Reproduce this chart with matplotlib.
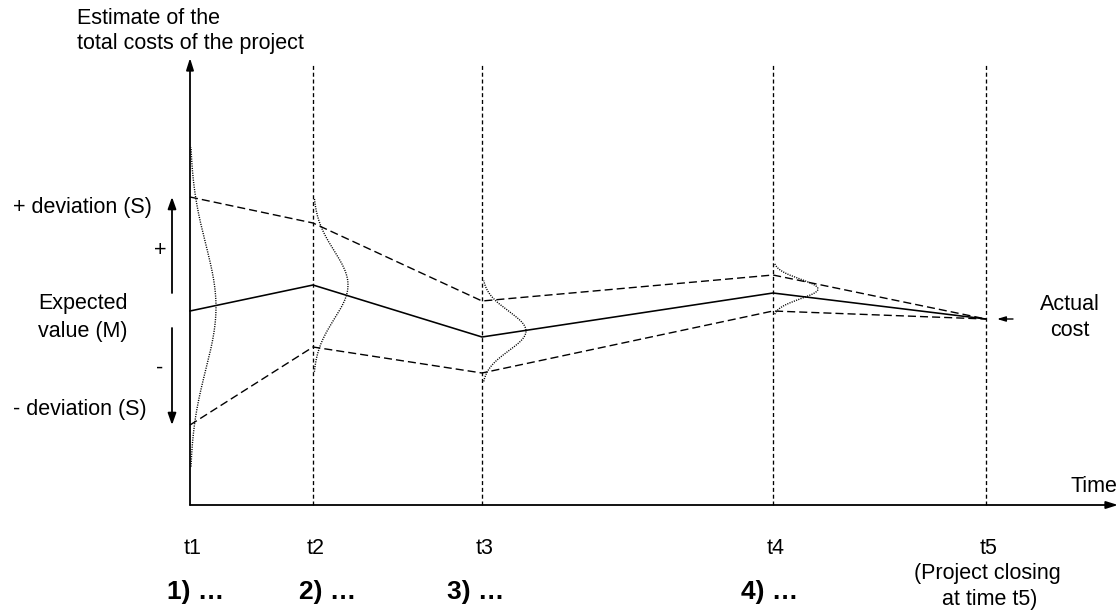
import numpy as np
import matplotlib
matplotlib.use("Agg")
import matplotlib.pyplot as plt

plt.rcParams['font.family'] = ['Liberation Sans', 'DejaVu Sans']
plt.rcParams['lines.scale_dashes'] = False

# Review points along the project timeline
time_labels = ["t1", "t2", "t3", "t4", "t5"]
time_pos = [0.0, 12.3, 29.2, 58.3, 79.6]
phase_labels = ["1) \u2026", "2) \u2026", "3) \u2026", "4) \u2026"]

# Estimated total cost at each review: expected value and deviation
expected = [19.4, 22.0, 16.8, 21.2, 18.6]
deviation = [11.4, 6.2, 3.6, 1.8, 0.0]

# Shape of the estimate distribution drawn at each of the first four reviews
dist_center = [19.8, 22.0, 17.4, 21.6]
dist_height = [2.6, 3.5, 4.4, 4.5]

fig = plt.figure(figsize=(11.2, 6.11), dpi=100)
ax = fig.add_axes([0, 0, 1, 1])
ax.set_xlim(-19.0, 93.0)
ax.set_ylim(-10.6, 50.5)
ax.axis('off')

FS = 15.5
k = 'black'

# axes with arrow heads
ax.annotate('', xy=(0, 44.7), xytext=(0, 0),
            arrowprops=dict(arrowstyle='-|>,head_length=0.7,head_width=0.22',
                            lw=1.3, color=k, shrinkA=0, shrinkB=0))
ax.annotate('', xy=(92.8, 0), xytext=(0, 0),
            arrowprops=dict(arrowstyle='-|>,head_length=0.7,head_width=0.22',
                            lw=1.3, color=k, shrinkA=0, shrinkB=0))

# vertical guides at each review
ax.vlines(time_pos[1:], 0, 44.2, colors=k, lw=0.95,
          linestyles=[(0, (2.9, 2.0))])

# expected value and deviation bands
t = np.array(time_pos)
m = np.array(expected)
d = np.array(deviation)
ax.plot(t, m, color=k, lw=1.15, solid_joinstyle='miter')
ax.plot(t, m + d, color=k, lw=1.0, linestyle=(0, (5.8, 2.9)))
ax.plot(t, m - d, color=k, lw=1.0, linestyle=(0, (5.8, 2.9)))

# distribution curves
for i in range(4):
    s = 0.55 * deviation[i]
    y = np.linspace(dist_center[i] - 1.4 * deviation[i],
                    dist_center[i] + 1.4 * deviation[i], 300)
    x = time_pos[i] + dist_height[i] * np.exp(-0.5 * ((y - dist_center[i]) / s) ** 2)
    ax.plot(x, y, color=k, lw=1.0, linestyle=(0, (0.8, 0.9)))

# deviation arrows on the left
ax.annotate('', xy=(-1.8, m[0] + d[0]), xytext=(-1.8, 21.2),
            arrowprops=dict(arrowstyle='-|>,head_length=0.7,head_width=0.25',
                            lw=1.3, color=k, shrinkA=0, shrinkB=0))
ax.annotate('', xy=(-1.8, m[0] - d[0]), xytext=(-1.8, 17.7),
            arrowprops=dict(arrowstyle='-|>,head_length=0.7,head_width=0.25',
                            lw=1.3, color=k, shrinkA=0, shrinkB=0))

# actual cost pointer
ax.annotate('', xy=(80.7, expected[-1]), xytext=(82.3, expected[-1]),
            arrowprops=dict(arrowstyle='-|>,head_length=0.5,head_width=0.15',
                            lw=1.0, color=k, shrinkA=0, shrinkB=0))

# text
ax.text(-11.3, 48.7, "Estimate of the", fontsize=FS, ha='left', va='center')
ax.text(-11.3, 46.2, "total costs of the project", fontsize=FS, ha='left', va='center')
ax.text(-10.8, 29.8, "+ deviation (S)", fontsize=FS, ha='center', va='center')
ax.text(-3.0, 25.4, "+", fontsize=FS, ha='center', va='center')
ax.text(-10.7, 20.1, "Expected", fontsize=FS, ha='center', va='center')
ax.text(-10.7, 17.4, "value (M)", fontsize=FS, ha='center', va='center')
ax.text(-3.0, 13.7, "-", fontsize=FS, ha='center', va='center')
ax.text(-11.0, 9.5, "- deviation (S)", fontsize=FS, ha='center', va='center')
ax.text(88.0, 20.1, "Actual", fontsize=FS, ha='center', va='center')
ax.text(88.0, 17.5, "cost", fontsize=FS, ha='center', va='center')
ax.text(92.7, 1.8, "Time", fontsize=FS, ha='right', va='center')

for tp, lab in zip(time_pos, time_labels):
    ax.text(tp + 0.3, -4.3, lab, fontsize=FS, ha='center', va='center')

phase_x = [0.6, 13.8, 28.6, 58.0]
for px, lab in zip(phase_x, phase_labels):
    ax.text(px, -8.7, lab, fontsize=19, fontweight='bold', ha='center', va='center')

ax.text(79.75, -6.9, "(Project closing", fontsize=FS, ha='center', va='center')
ax.text(80.0, -9.4, "at time t5)", fontsize=FS, ha='center', va='center')

fig.savefig("out.png", dpi=100)
